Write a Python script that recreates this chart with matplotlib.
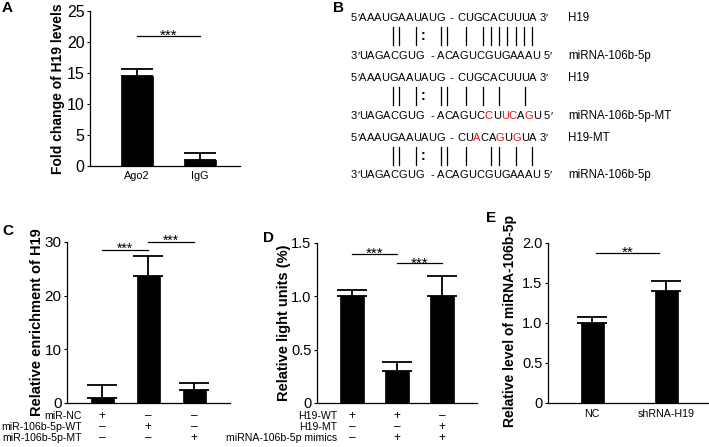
import matplotlib
matplotlib.use('Agg')
import matplotlib.pyplot as plt
import numpy as np
from matplotlib.font_manager import FontProperties, findfont
from matplotlib.ft2font import FT2Font

plt.rcParams['font.family'] = ['Liberation Sans', 'DejaVu Sans']

# ---------------- data ----------------
a_cats = ['Ago2', 'IgG']
a_vals = [14.5, 1.0]
a_err = [1.1, 1.15]

c_vals = [1.0, 23.7, 2.4]
c_err = [2.4, 3.6, 1.3]
c_rows = ['miR-NC', 'miR-106b-5p-WT', 'miR-106b-5p-MT']
c_signs = [['+', '–', '–'], ['–', '+', '–'], ['–', '–', '+']]

d_vals = [1.0, 0.30, 1.0]
d_err = [0.06, 0.08, 0.19]
d_rows = ['H19-WT', 'H19-MT', 'miRNA-106b-5p mimics']
d_signs = [['+', '+', '–'], ['–', '–', '+'], ['–', '+', '+']]

e_cats = ['NC', 'shRNA-H19']
e_vals = [1.0, 1.40]
e_err = [0.08, 0.12]

W, H = 709, 447
fig = plt.figure(figsize=(W / 100, H / 100), dpi=100)


def px_axes(l, r, t, b):
    return fig.add_axes([l / W, 1 - b / H, (r - l) / W, (b - t) / H])


def style(ax, ylim, yticks, ylabels, xlim, fs=11):
    for s in ['top', 'right']:
        ax.spines[s].set_visible(False)
    for s in ['left', 'bottom']:
        ax.spines[s].set_linewidth(0.9)
    ax.set_xlim(*xlim)
    ax.set_ylim(*ylim)
    ax.set_yticks(yticks)
    ax.set_yticklabels(ylabels, fontsize=fs)
    ax.tick_params(axis='y', length=2.5, width=0.8, pad=1.5)
    ax.tick_params(axis='x', length=0)


def bars(ax, vals, errs, width, capsize=11):
    x = np.arange(len(vals))
    ax.errorbar(x, vals, yerr=[np.zeros(len(vals)), errs], fmt='none', ecolor='black',
                elinewidth=1.3, capsize=capsize, capthick=1.3, zorder=1)
    ax.bar(x, vals, width=width, color='black', edgecolor='black', linewidth=0.5, zorder=2)


def sig(ax, x1, x2, y, text, fs, gap_px=4.7):
    ax.plot([x1, x2], [y, y], color='black', lw=0.9, clip_on=False)
    off = (gap_px - 0.58 * fs * 100 / 72) * 0.72
    ax.annotate(text, xy=((x1 + x2) / 2, y), xytext=(0, off), textcoords='offset points',
                ha='center', va='baseline', fontsize=fs, annotation_clip=False)


def rows(ax, box, labels, signs, label_x, row_y, fs=7.6):
    l, r, t, b = box
    for i, lab in enumerate(labels):
        yf = (b - row_y[i]) / (b - t)
        ax.text((label_x - l) / (r - l), yf, lab, transform=ax.transAxes, ha='right',
                va='center', fontsize=fs, clip_on=False)
        for j, s in enumerate(signs[i]):
            ax.text(j, yf, s, transform=ax.get_xaxis_transform(), ha='center', va='center',
                    fontsize=fs + 1, clip_on=False)


# ---------------- Panel A ----------------
boxA = (90, 240, 11, 166)
axA = px_axes(*boxA)
bars(axA, a_vals, a_err, 0.51, capsize=11.5)
style(axA, (0, 25), [0, 5, 10, 15, 20, 25], ['0', '5', '10', '15', '20', '25'], (-0.746, 1.635), fs=11.5)
axA.set_xticks(range(len(a_cats)))
axA.set_xticklabels(a_cats, fontsize=7.8)
axA.tick_params(axis='x', pad=3.5)
axA.set_ylabel('Fold change of H19 levels', fontsize=10, fontweight='bold')
axA.yaxis.set_label_coords(-0.167, 0.5)
sig(axA, 0, 1, 21.0, '***', 11)

# ---------------- Panel C ----------------
boxC = (67, 230, 242, 403)
axC = px_axes(*boxC)
bars(axC, c_vals, c_err, 0.5, capsize=11)
style(axC, (0, 30), [0, 10, 20, 30], ['0', '10', '20', '30'], (-0.761, 2.78), fs=11)
axC.set_xticks([])
axC.set_ylabel('Relative enrichment of H19', fontsize=10.5, fontweight='bold')
axC.yaxis.set_label_coords(-0.14, 0.5)
sig(axC, 0, 1, 28.5, '***', 10, gap_px=5)
sig(axC, 1, 2, 30.0, '***', 10, gap_px=5)
rows(axC, boxC, c_rows, c_signs, 82, [416, 427, 438])

# ---------------- Panel D ----------------
boxD = (317, 477, 243, 403)
axD = px_axes(*boxD)
bars(axD, d_vals, d_err, 0.53, capsize=11)
style(axD, (0, 1.5), [0, 0.5, 1.0, 1.5], ['0', '0.5', '1.0', '1.5'], (-0.778, 2.78), fs=10.5)
axD.set_xticks([])
axD.set_ylabel('Relative light units (%)', fontsize=10.5, fontweight='bold')
axD.yaxis.set_label_coords(-0.165, 0.5)
sig(axD, 0, 1, 1.40, '***', 11)
sig(axD, 1, 2, 1.31, '***', 11)
rows(axD, boxD, d_rows, d_signs, 337, [416, 427, 438])

# ---------------- Panel E ----------------
boxE = (548, 709, 243, 403)
axE = px_axes(*boxE)
bars(axE, e_vals, e_err, 0.31, capsize=11)
style(axE, (0, 2.0), [0, 0.5, 1.0, 1.5, 2.0], ['0', '0.5', '1.0', '1.5', '2.0'], (-0.595, 1.58), fs=10.5)
axE.set_xticks(range(len(e_cats)))
axE.set_xticklabels(e_cats, fontsize=7.7)
axE.tick_params(axis='x', pad=4)
axE.set_ylabel('Relative level of miRNA-106b-5p', fontsize=10, fontweight='bold')
axE.yaxis.set_label_coords(-0.194, 0.51)
sig(axE, 0.05, 0.9, 1.88, '**', 11)

# ---------------- Panel B (sequence alignment) + panel letters ----------------
axB = fig.add_axes([0, 0, 1, 1], zorder=-1)
axB.set_xlim(0, W)
axB.set_ylim(H, 0)
axB.axis('off')

B_FS = 8.0
fpB = FontProperties(family='Liberation Sans', size=B_FS)
ftB = FT2Font(findfont(fpB))
ftB.set_size(B_FS, 100)
PR = '′' if ftB.get_char_index(ord('′')) != 0 else "'"


def adv(ch):
    g = ftB.load_char(ord(ch))
    return g.linearHoriAdvance / 65536


em = B_FS * 100 / 72


def draw_seq(x, y, s, red=()):
    base = y + 0.358 * em
    for k, ch in enumerate(s):
        if ch != ' ':
            axB.text(x, base, ch, fontsize=B_FS, color='#e8101a' if k in red else 'black',
                     ha='left', va='baseline')
        x += adv(ch)


def strand(y, pre, suf, xs, red_suf=()):
    x0, xdash, xsuf = xs
    draw_seq(x0, y, pre)
    axB.text(xdash, y + 0.358 * em, '-', fontsize=B_FS, ha='center', va='baseline')
    draw_seq(xsuf, y, suf, red_suf)


top_pos = (351, 451, 457)
bot_pos = (351, 432, 437)

h19_pre = '5' + PR + 'AAAUGAAUAUG'
h19_suf = 'CUGCACUUUA 3' + PR
h19mt_suf = 'CUACAGUGUA 3' + PR
mir_pre = '3' + PR + 'UAGACGUG'
mir_suf = 'ACAGUCGUGAAAU 5' + PR
mirmt_suf = 'ACAGUCCUUCAGU 5' + PR

blocks = [
    (17, 55, h19_suf, (), mir_suf, (), 'H19', 'miRNA-106b-5p',
     [392.7, 399, 416, 441, 447, 466, 482.7, 490.7, 499, 507.3, 515.7, 524, 531.7]),
    (77, 115, h19_suf, (), mirmt_suf, (6, 8, 9, 11), 'H19', 'miRNA-106b-5p-MT',
     [392.7, 399, 416, 441, 447, 466, 482.7, 499, 525]),
    (137.5, 174.5, h19mt_suf, (2, 5, 7), mir_suf, (), 'H19-MT', 'miRNA-106b-5p',
     [392.7, 399, 416, 441, 447, 466, 490.7, 499, 515.7, 531.7]),
]
for yt, yb, tsuf, tred, bsuf, bred, tlab, blab, pairs in blocks:
    strand(yt, h19_pre, tsuf, top_pos, tred)
    strand(yb, mir_pre, bsuf, bot_pos, bred)
    axB.text(568, yt + 0.358 * em, tlab, fontsize=B_FS + 0.3, ha='left', va='baseline')
    axB.text(568, yb + 0.358 * em, blab, fontsize=B_FS + 0.3, ha='left', va='baseline')
    y1, y2 = yt + 9.5, yb - 10
    for xp in pairs:
        axB.plot([xp, xp], [y1, y2], color='black', lw=0.9)
    axB.text(423.3, (y1 + y2) / 2, ':', fontsize=10, fontweight='bold', ha='center', va='center')

for lab, (x, y) in zip('ABCDE', [(7, 8), (338, 8.5), (7.5, 231), (268, 238), (491, 218)]):
    axB.text(x, y, lab, fontsize=11, fontweight='bold', ha='center', va='center')

fig.savefig('out.png', dpi=100)
